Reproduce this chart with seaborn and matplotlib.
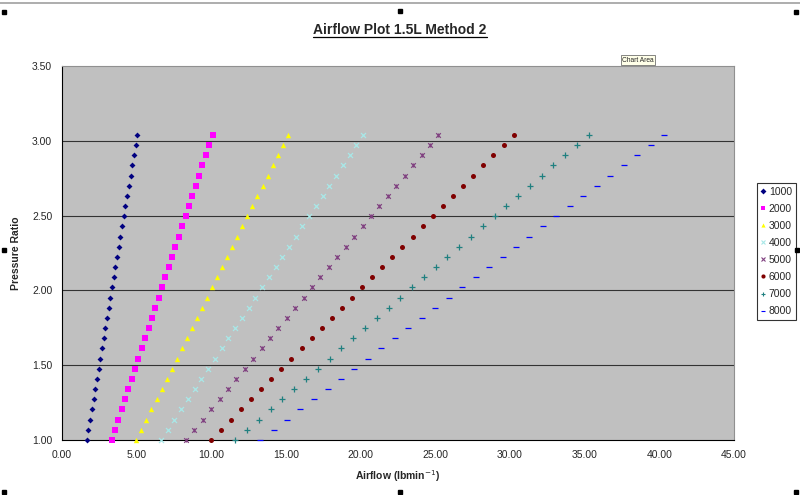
import numpy as np
import pandas as pd
import matplotlib
matplotlib.use("Agg")
import matplotlib.pyplot as plt
import seaborn as sns
from matplotlib.lines import Line2D

# ---------------- data ----------------
pressure_ratio = [1.000, 1.068, 1.136, 1.204, 1.272, 1.340, 1.408, 1.476, 1.544, 1.612,
                  1.680, 1.748, 1.816, 1.884, 1.952, 2.020, 2.088, 2.156, 2.224, 2.292,
                  2.360, 2.428, 2.496, 2.564, 2.632, 2.700, 2.768, 2.836, 2.904, 2.972, 3.040]

rpm_labels = ["1000", "2000", "3000", "4000", "5000", "6000", "7000", "8000"]

airflow_1000 = [1.66, 1.77, 1.88, 2.00, 2.11, 2.22, 2.33, 2.45, 2.56, 2.67, 2.79, 2.90, 3.01, 3.12, 3.24,
                3.35, 3.46, 3.57, 3.69, 3.80, 3.91, 4.03, 4.14, 4.25, 4.36, 4.48, 4.59, 4.70, 4.81, 4.93, 5.04]
airflow_2000 = [3.32, 3.54, 3.77, 3.99, 4.22, 4.44, 4.67, 4.89, 5.12, 5.35, 5.57, 5.80, 6.02, 6.25, 6.47,
                6.70, 6.92, 7.15, 7.37, 7.60, 7.83, 8.05, 8.28, 8.50, 8.73, 8.95, 9.18, 9.40, 9.63, 9.86, 10.08]
airflow_3000 = [4.97, 5.31, 5.65, 5.99, 6.33, 6.67, 7.00, 7.34, 7.68, 8.02, 8.36, 8.69, 9.03, 9.37, 9.71,
                10.05, 10.39, 10.73, 11.06, 11.40, 11.74, 12.08, 12.41, 12.75, 13.09, 13.43, 13.77, 14.11,
                14.45, 14.78, 15.12]
airflow_4000 = [6.63, 7.08, 7.53, 7.98, 8.44, 8.89, 9.34, 9.79, 10.24, 10.69, 11.14, 11.59, 12.04, 12.50,
                12.94, 13.40, 13.85, 14.30, 14.75, 15.20, 15.65, 16.10, 16.55, 17.00, 17.46, 17.91, 18.36,
                18.81, 19.26, 19.71, 20.16]
airflow_5000 = [8.29, 8.86, 9.42, 9.98, 10.55, 11.11, 11.67, 12.24, 12.80, 13.37, 13.93, 14.49, 15.06,
                15.62, 16.18, 16.75, 17.31, 17.88, 18.44, 19.00, 19.57, 20.13, 20.69, 21.26, 21.82, 22.39,
                22.95, 23.51, 24.08, 24.64, 25.20]
airflow_6000 = [9.95, 10.63, 11.30, 11.98, 12.65, 13.33, 14.00, 14.68, 15.36, 16.04, 16.71, 17.39, 18.07,
                18.74, 19.42, 20.09, 20.77, 21.45, 22.12, 22.80, 23.48, 24.16, 24.83, 25.51, 26.18, 26.86,
                27.53, 28.21, 28.89, 29.57, 30.24]
airflow_7000 = [11.61, 12.40, 13.18, 13.97, 14.76, 15.55, 16.34, 17.13, 17.92, 18.71, 19.50, 20.29, 21.08,
                21.87, 22.65, 23.44, 24.23, 25.03, 25.81, 26.60, 27.39, 28.18, 28.97, 29.76, 30.55, 31.34,
                32.12, 32.91, 33.71, 34.50, 35.28]
airflow_8000 = [13.26, 14.17, 15.06, 15.97, 16.87, 17.78, 18.67, 19.58, 20.48, 21.38, 22.28, 23.18, 24.09,
                24.99, 25.89, 26.79, 27.70, 28.60, 29.50, 30.40, 31.30, 32.21, 33.10, 34.01, 34.91, 35.82,
                36.71, 37.62, 38.52, 39.42, 40.32]

x_ticks = [0, 5, 10, 15, 20, 25, 30, 35, 40, 45]
y_ticks = [1.0, 1.5, 2.0, 2.5, 3.0, 3.5]

series = [airflow_1000, airflow_2000, airflow_3000, airflow_4000,
          airflow_5000, airflow_6000, airflow_7000, airflow_8000]

frames = []
for lab, vals in zip(rpm_labels, series):
    frames.append(pd.DataFrame({"Airflow": vals, "PR": pressure_ratio, "RPM": lab}))
df = pd.concat(frames, ignore_index=True)

# ---------------- styles ----------------
styles = {
    "1000": dict(marker="D", color="#000080", s=9, filled=True),
    "2000": dict(marker="s", color="#FF00FF", s=13, filled=True),
    "3000": dict(marker="^", color="#FFFF00", s=15, filled=True),
    "4000": dict(marker="x", color="#A8E8E8", s=13, filled=False),
    "5000": dict(marker="x", color="#804080", s=11, filled=False),
    "6000": dict(marker="o", color="#800000", s=13, filled=True),
    "7000": dict(marker="+", color="#208080", s=15, filled=False),
    "8000": dict(marker="_", color="#0000FF", s=13, filled=False),
}

sns.set_style("white")
plt.rcParams["font.family"] = ["Liberation Sans", "DejaVu Sans"]

fig = plt.figure(figsize=(8.0, 4.95), dpi=100)
ax = fig.add_axes([62 / 800, 1 - 440 / 495, 672 / 800, 374 / 495])
ax.set_facecolor("#C0C0C0")

for lab in rpm_labels:
    st = styles[lab]
    sub = df[df["RPM"] == lab]
    if st["filled"]:
        sns.scatterplot(data=sub, x="Airflow", y="PR", marker=st["marker"], color=st["color"],
                        s=st["s"], linewidth=0, ax=ax, zorder=3, clip_on=False)
    else:
        sns.scatterplot(data=sub, x="Airflow", y="PR", marker=st["marker"], color=st["color"],
                        s=st["s"], linewidth=0.9, ax=ax, zorder=3, clip_on=False)

# star-like extra for 5000 (vertical stroke)
sub5 = df[df["RPM"] == "5000"]
sns.scatterplot(data=sub5, x="Airflow", y="PR", marker="|", color="#804080", s=8,
                linewidth=0.7, ax=ax, zorder=3, clip_on=False)

ax.set_xlim(0, 45)
ax.set_ylim(1.0, 3.5)
ax.set_xticks(x_ticks)
ax.set_yticks(y_ticks)
ax.set_xticklabels([f"{v:.2f}" for v in x_ticks], fontsize=7.5)
ax.set_yticklabels([f"{v:.2f}" for v in y_ticks], fontsize=7.5)
ax.tick_params(axis="both", direction="out", length=4, width=0.8, color="black", pad=3)
for yv in [1.5, 2.0, 2.5, 3.0]:
    ax.axhline(yv, color="#333333", linewidth=0.8, zorder=1)
for side in ["left", "bottom"]:
    ax.spines[side].set_color("black")
    ax.spines[side].set_linewidth(0.8)
for side in ["top", "right"]:
    ax.spines[side].set_color("#909090")
    ax.spines[side].set_linewidth(0.8)

ax.set_xlabel("Airflow (lbmin$^{-1}$)", fontsize=7.5, fontweight="bold", labelpad=6)
ax.set_ylabel("Pressure Ratio", fontsize=7.5, fontweight="bold", labelpad=8)

# legend
handles = []
for lab in rpm_labels:
    st = styles[lab]
    ms = 3.0
    if st["filled"]:
        h = Line2D([], [], linestyle="none", marker=st["marker"], color=st["color"],
                   markersize=ms, markeredgewidth=0)
    else:
        h = Line2D([], [], linestyle="none", marker=st["marker"], color=st["color"],
                   markersize=ms, markeredgewidth=0.8)
    handles.append(h)
leg = ax.legend(handles, rpm_labels, loc="upper left", bbox_to_anchor=(1.034, 0.687),
                borderaxespad=0, frameon=True, fancybox=False, fontsize=7.5,
                handlelength=0.5, handletextpad=0.3, labelspacing=0.68,
                borderpad=0.35, edgecolor="black")
leg.get_frame().set_linewidth(0.8)

# title with underline
title = fig.text(400 / 800, 1 - 30 / 495, "Airflow Plot 1.5L Method 2", ha="center", va="center",
                 fontsize=10, fontweight="bold")
fig.canvas.draw()
bb = title.get_window_extent(renderer=fig.canvas.get_renderer())
W, H = fig.bbox.width, fig.bbox.height
uy = (bb.y0 + 0.5) / H
fig.add_artist(Line2D([bb.x0 / W, bb.x1 / W], [uy, uy], color="black", linewidth=0.9))

# "Chart Area" tooltip
fig.text(638 / 800, 1 - 60 / 495, "Chart Area", ha="center", va="center", fontsize=4.8,
         bbox=dict(boxstyle="square,pad=0.25", facecolor="#FFFFE8", edgecolor="#555555", linewidth=0.5))

# window edge line and selection handles
fig.add_artist(Line2D([0, 1], [1 - 3 / 495, 1 - 3 / 495], color="#A0A0A0", linewidth=1.2))
for hx, hy in [(4, 12), (400, 11), (796, 12), (4, 250), (797, 250), (4, 492), (400, 492), (796, 492)]:
    fig.add_artist(Line2D([hx / 800], [1 - hy / 495], marker="s", markersize=2.2, color="black",
                          linestyle="none"))

fig.savefig("out.png", dpi=100)
